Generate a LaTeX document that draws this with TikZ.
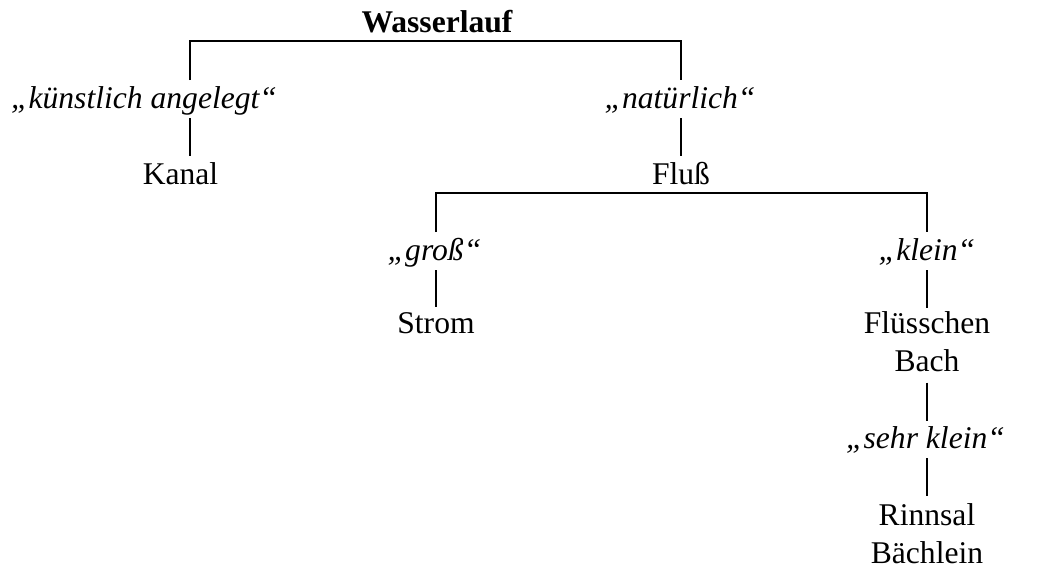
\documentclass[tikz,border=0pt]{standalone}
\usepackage{fontspec}
\setmainfont{Liberation Serif}
\usetikzlibrary{calc}
\begin{document}
\begin{tikzpicture}[x=1pt,y=-1pt,
  lbl/.style={font=\fontsize{31.6}{38}\selectfont, inner sep=0pt, outer sep=0pt, text height=22pt, text depth=7pt, anchor=base},
  cat/.style={lbl, font=\fontsize{31.6}{38}\selectfont\itshape},
  multi/.style={font=\fontsize{31.6}{38}\selectfont, inner sep=0pt, outer sep=0pt, align=center, anchor=north},
  conn/.style={line width=1.1pt}]
\useasboundingbox (0,0) rectangle (1041,568);
\node[lbl, font=\fontsize{31.6}{38}\selectfont\bfseries] (W) at (437,32) {Wasserlauf};
\coordinate (L) at (190,0);
\node[cat] (kl) at (144,108) {„künstlich angelegt“};
\node[lbl] (kanal) at (180.5,184) {Kanal};
\node[cat] (nat) at (680,108) {„natürlich“};
\node[lbl] (fluss) at (681,184) {Fluß};
\node[cat] (gross) at (434.5,260) {„groß“};
\node[lbl] (strom) at (436,333) {Strom};
\node[cat] (klein) at (927,260) {„klein“};
\node[multi] (fb) at (927,311.5) {Flüsschen\\Bach};
\node[cat] (sk) at (925.5,448) {„sehr klein“};
\node[multi] (rb) at (927,503.5) {Rinnsal\\Bächlein};

\draw[conn] ($(kl.north -| L)+(0,-6)$) |- ($(W.south)+(0,2)$) -| ($(nat.north -| fluss)+(0,-6)$);
\draw[conn] ($(kl.south -| L)+(0,3)$) -- ($(kanal.north -| L)+(0,-6)$);
\draw[conn] ($(nat.south -| fluss)+(0,3)$) -- ($(fluss.north)+(0,-6)$);
\draw[conn] ($(gross.north -| strom)+(0,-6)$) |- ($(fluss.south)+(0,2)$) -| ($(klein.north -| fb)+(0,-6)$);
\draw[conn] ($(gross.south -| strom)+(0,3)$) -- ($(strom.north)+(0,-4)$);
\draw[conn] ($(klein.south -| fb)+(0,3)$) -- ($(fb.north)+(0,-4)$);
\draw[conn] ($(fb.south)+(0,11)$) -- ($(sk.north -| fb)+(0,-5)$);
\draw[conn] ($(sk.south -| fb)+(0,3)$) -- ($(rb.north)+(0,-8)$);
\end{tikzpicture}
\end{document}
